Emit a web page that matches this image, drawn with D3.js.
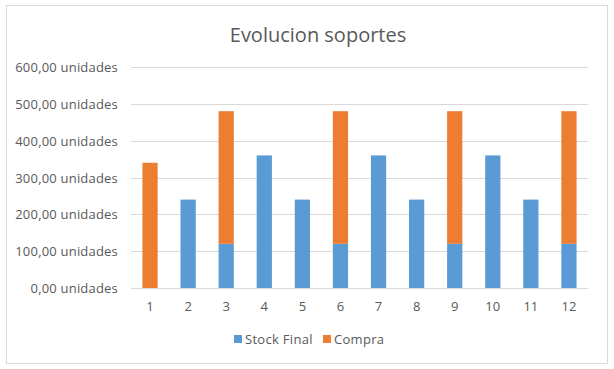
<!DOCTYPE html>
<html><head><meta charset="utf-8">
<script src="https://cdn.jsdelivr.net/npm/d3@7"></script>
<style>body{margin:0;background:#fff;}</style>
</head><body>
<script>
const categories = ["1","2","3","4","5","6","7","8","9","10","11","12"];
const stockFinal = [0,240,120,360,240,120,360,240,120,360,240,120];
const compra = [340,0,360,0,0,360,0,0,360,0,0,360];
const yTicks = [0,100,200,300,400,500,600];
const seriesNames = ["Stock Final","Compra"];
const colors = ["#5b9bd5","#ed7d31"];

const W=614,H=369;
const svg=d3.select("body").append("svg").attr("width",W).attr("height",H);
svg.append("rect").attr("x",6.5).attr("y",5.5).attr("width",601).attr("height",358)
  .attr("fill","#fff").attr("stroke","#d9d9d9");
const font="'Open Sans', sans-serif";
svg.append("text").attr("x",318).attr("y",42).attr("text-anchor","middle")
  .attr("font-family",font).attr("font-size",20).attr("fill","#595959").text("Evolucion soportes");

const x=d3.scaleBand().domain(categories).range([131,588]).paddingInner(0.6).paddingOuter(0.3);
const y=d3.scaleLinear().domain([0,600]).range([288,67]);

const g=svg.append("g");
g.selectAll("line.grid").data(yTicks).join("line")
  .attr("x1",131).attr("x2",588).attr("y1",d=>Math.round(y(d))+0.5).attr("y2",d=>Math.round(y(d))+0.5)
  .attr("stroke","#d9d9d9");
const fmt=d=>d3.format(".2f")(d).replace(".",",")+" unidades";
g.selectAll("text.yl").data(yTicks).join("text")
  .attr("x",118).attr("y",d=>y(d)+5).attr("text-anchor","end")
  .attr("font-family",font).attr("font-size",13).attr("letter-spacing",0.2).attr("fill","#595959").text(fmt);

const data=categories.map((c,i)=>({c,s:stockFinal[i],p:compra[i]}));
const stack=d3.stack().keys(["s","p"])(data);
stack.forEach((layer,k)=>{
  g.selectAll(null).data(layer).join("rect")
    .attr("x",d=>x(d.data.c)).attr("width",x.bandwidth())
    .attr("y",d=>y(d[1])).attr("height",d=>y(d[0])-y(d[1]))
    .attr("fill",colors[k]);
});
g.selectAll("text.xl").data(categories).join("text")
  .attr("x",d=>x(d)+x.bandwidth()/2).attr("y",311).attr("text-anchor","middle")
  .attr("font-family",font).attr("font-size",13).attr("fill","#595959").text(d=>d);

const leg=svg.append("g");
const lx=[234,323];
seriesNames.forEach((n,i)=>{
  leg.append("rect").attr("x",lx[i]).attr("y",335).attr("width",8).attr("height",8).attr("fill",colors[i]);
  leg.append("text").attr("x",lx[i]+11).attr("y",344).attr("font-family",font).attr("font-size",13)
    .attr("letter-spacing",0.3).attr("fill","#595959").text(n);
});
</script>
</body></html>
